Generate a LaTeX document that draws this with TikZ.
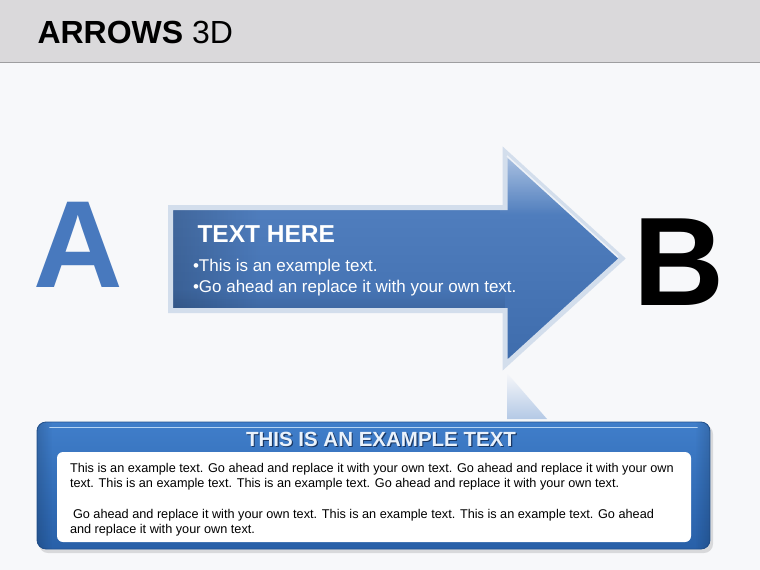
\documentclass[tikz,border=0pt]{standalone}
\usepackage{fontspec}
\setmainfont{Liberation Sans}
\usetikzlibrary{fadings,shadows}
\definecolor{bgcol}{RGB}{247,248,250}
\definecolor{hdrcol}{RGB}{218,217,219}
\definecolor{hdrline}{RGB}{158,158,160}
\definecolor{ablue}{RGB}{72,121,190}
\definecolor{arrowtop}{RGB}{86,132,196}
\definecolor{arrowbot}{RGB}{62,108,172}
\definecolor{arrowedge}{RGB}{211,222,236}
\definecolor{reflblue}{RGB}{180,201,230}
\definecolor{boxtop}{RGB}{64,126,202}
\definecolor{boxbot}{RGB}{40,96,168}
\definecolor{boxedge}{RGB}{36,84,146}
\definecolor{boxhl}{RGB}{182,212,242}
\definecolor{titletext}{RGB}{234,242,251}
\definecolor{titleshadow}{RGB}{25,55,100}
\tikzfading[name=fadedown, top color=transparent!0, bottom color=transparent!100]
\tikzfading[name=fadeup, top color=transparent!100, bottom color=transparent!0]
\tikzfading[name=faderight, left color=transparent!0, right color=transparent!100]
\tikzfading[name=fadeleft, left color=transparent!100, right color=transparent!0]
\tikzset{
  txt/.style={anchor=base west, inner sep=0pt, outer sep=0pt},
  bodytxt/.style={txt, text=black, font=\fontsize{12.7}{15}\selectfont},
  bullettxt/.style={txt, text=white, font=\fontsize{17}{20}\selectfont},
}
\begin{document}
\begin{tikzpicture}[x=1pt,y=-1pt]
\useasboundingbox (0,0) rectangle (760,570);
\fill[bgcol] (0,0) rectangle (760,570);
% header
\fill[hdrcol] (0,0) rectangle (760,62);
\draw[hdrline, line width=1.5pt] (0,62.5) -- (760,62.5);
\node[txt, font=\fontsize{32}{36}\selectfont] (title) at (37.5,43) {\textbf{ARROWS} 3D};
% letters
\node[txt, text=ablue, font=\bfseries\fontsize{124}{130}\selectfont] (A) at (33,287) {A};
\node[txt, text=black, font=\bfseries\fontsize{126}{130}\selectfont] (B) at (633,305) {B};
% reflection of arrow head
\fill[reflblue, path fading=fadeup] (507,373) -- (547,419) -- (507,419) -- cycle;
% arrow
\def\arrowpath{(170.5,207.5) -- (505,207.5) -- (505,152) -- (622,258.5) -- (505,365) -- (505,310.5) -- (170.5,310.5) -- cycle}
\shade[top color=arrowtop, bottom color=arrowbot] \arrowpath;
\begin{scope}
  \clip \arrowpath;
  \fill[white, opacity=0.55, path fading=fadedown] (500,150) rectangle (625,215);
  \fill[black, opacity=0.18, path fading=faderight] (170,205) rectangle (260,315);
  \fill[black, opacity=0.10, path fading=fadeup] (170,290) rectangle (505,312);
\end{scope}
\draw[arrowedge, line width=5pt, line join=miter] \arrowpath;
\draw[white, opacity=0.6, line width=1.5pt] (507,156) -- (618,257);
\node[txt, text=white, font=\bfseries\fontsize{24.5}{28}\selectfont] (head) at (197.5,242) {TEXT HERE};
\node[bullettxt] (b1) at (193,271) {•This is an example text.};
\node[bullettxt] (b2) at (193,292) {•Go ahead an replace it with your own text.};
% bottom box
\fill[black, opacity=0.12, rounded corners=9pt] (39,425) rectangle (713,553);
\shade[top color=boxtop, bottom color=boxbot, rounded corners=9pt, draw=boxedge, line width=0.8pt] (37,422) rectangle (710,549);
\begin{scope}
  \clip[rounded corners=9pt] (37,422) rectangle (710,549);
  \fill[black, opacity=0.15, path fading=faderight] (37,422) rectangle (52,549);
  \fill[black, opacity=0.15, path fading=fadeleft] (695,422) rectangle (710,549);
\end{scope}
\draw[boxhl, line width=1.6pt, line cap=round] (50,427.5) -- (697,427.5);
\fill[white, rounded corners=6pt] (57,452) rectangle (691,542);
\node[anchor=base, inner sep=0pt, text=titleshadow, font=\bfseries\fontsize{20.5}{24}\selectfont] (boxtitleshadow) at (382.2,447.2) {THIS IS AN EXAMPLE TEXT};
\node[anchor=base, inner sep=0pt, text=titletext, font=\bfseries\fontsize{20.5}{24}\selectfont] (boxtitle) at (381,446) {THIS IS AN EXAMPLE TEXT};
\node[bodytxt] (l1) at (70,472) {This is an example text. Go ahead and replace it with your own text. Go ahead and replace it with your own};
\node[bodytxt] (l2) at (70,487) {text. This is an example text. This is an example text. Go ahead and replace it with your own text.};
\node[bodytxt] (l3) at (73,518) {Go ahead and replace it with your own text. This is an example text. This is an example text. Go ahead};
\node[bodytxt] (l4) at (70,533) {and replace it with your own text.};
\end{tikzpicture}
\end{document}
